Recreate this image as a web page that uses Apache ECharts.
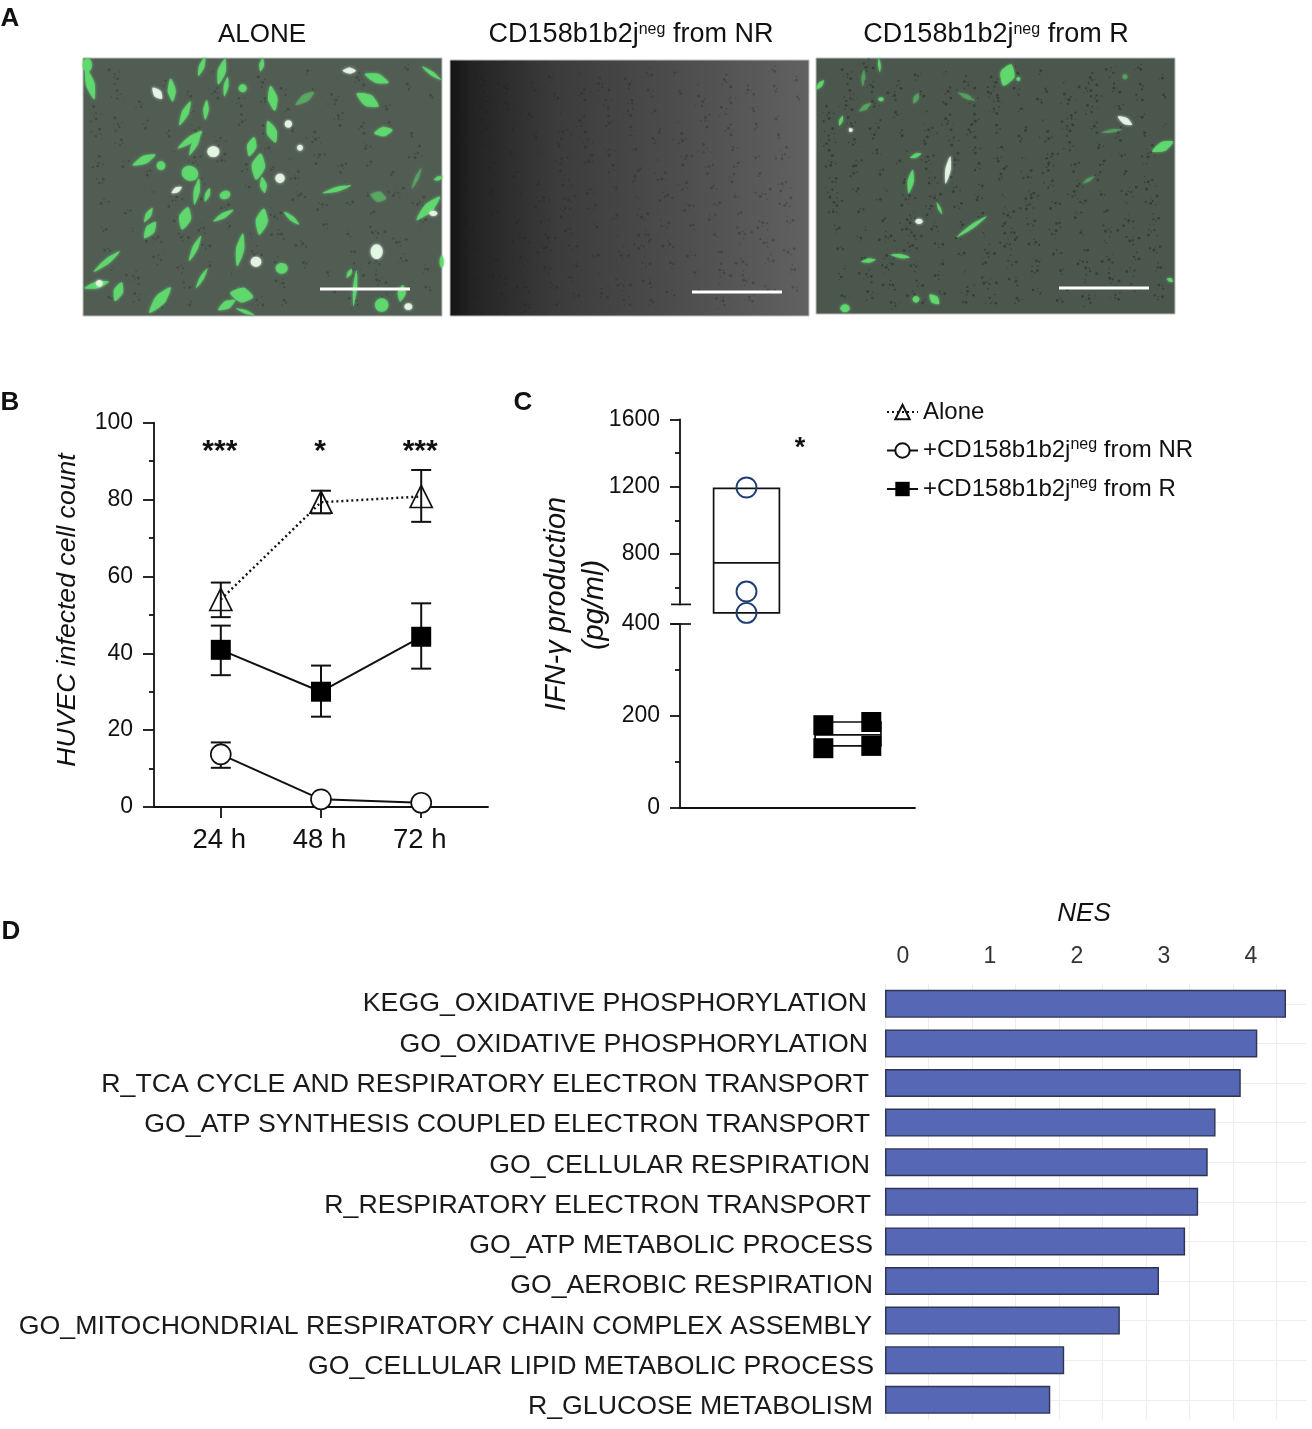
<!DOCTYPE html>
<html>
<head>
<meta charset="utf-8">
<style>html,body{margin:0;padding:0;background:#fff}#c{width:1312px;height:1429px}</style>
<script src="https://cdn.jsdelivr.net/npm/echarts@6/dist/echarts.min.js"></script>
</head>
<body>
<div id="c"></div>
<script>
// ---- Panel B data
const hours = [24, 48, 72];
const aloneMean = [54, 79.3, 80.8];
const aloneLow = [49.4, 76.4, 74.2];
const aloneHigh = [58.4, 82.3, 87.7];
const nrMean = [13.7, 2, 1.1];
const nrLow = [10.2, 2, 1.1];
const nrHigh = [16.8, 2, 1.1];
const rMean = [40.9, 30, 44.3];
const rLow = [34.3, 23.5, 36];
const rHigh = [47.2, 36.8, 53];
const sigB = ['***', '*', '***'];

// ---- Panel C data
const nrPoints = [1195, 577, 450];
const nrBox = [450, 747, 1190];
const rBox = [135, 159, 187];
const rPointsLeft = [180, 130];
const rPointsRight = [187, 135];

// ---- Panel D data
const pathways = [
  'KEGG_OXIDATIVE PHOSPHORYLATION',
  'GO_OXIDATIVE PHOSPHORYLATION',
  'R_TCA CYCLE AND RESPIRATORY ELECTRON TRANSPORT',
  'GO_ATP SYNTHESIS COUPLED ELECTRON TRANSPORT',
  'GO_CELLULAR RESPIRATION',
  'R_RESPIRATORY ELECTRON TRANSPORT',
  'GO_ATP METABOLIC PROCESS',
  'GO_AEROBIC RESPIRATION',
  'GO_MITOCHONDRIAL RESPIRATORY CHAIN COMPLEX ASSEMBLY',
  'GO_CELLULAR LIPID METABOLIC PROCESS',
  'R_GLUCOSE METABOLISM'
];
const nes = [4.61, 4.28, 4.09, 3.80, 3.71, 3.60, 3.45, 3.15, 2.70, 2.06, 1.90];

// ---- Micrograph decoration (photographs in the reference, sketched as shapes)
const cellsAlone = [[60,100,50,13,75],[52,45,20,14,90],[305,120,35,12,85],[395,50,30,8,-70],[455,65,40,12,-75],[468,110,30,7,-80],[345,190,40,10,-65],[408,180,30,8,-85],[518,115,12,12,0],[608,145,38,14,80],[575,45,20,7,-80],[262,130,22,12,50,'w'],[920,85,38,14,20],[893,150,38,18,30],[940,245,28,14,-10],[838,62,20,9,0,'w'],[1085,70,35,6,35],[705,145,35,12,-35,'f'],[360,270,45,10,-35],[222,330,38,12,-25],[375,280,40,9,-65],[273,347,13,13,0],[655,222,11,11,0,'w'],[605,245,35,15,70],[430,305,18,16,0,'w'],[545,290,30,14,-75],[565,350,40,20,-80],[580,405,24,10,80],[690,293,9,9,0,'w'],[630,385,14,14,0,'w'],[360,370,25,22,20],[380,425,40,9,-80],[320,420,18,8,-30,'w'],[412,435,22,7,-70],[465,435,16,12,-20],[235,495,25,8,-60],[345,505,35,18,-75],[240,540,30,14,-55],[460,497,35,8,-30],[575,515,40,18,-80],[665,505,30,7,40],[375,595,42,8,-65],[510,600,50,12,-80],[558,635,16,15,0,'w'],[635,655,18,16,0],[110,635,50,8,-38],[80,705,38,10,-15],[88,700,10,10,0,'w'],[145,725,30,14,-70],[395,685,35,6,-60],[270,750,50,16,-50],[515,735,35,22,10],[470,765,30,12,-30],[525,785,30,5,20],[855,715,55,6,-85],[838,670,16,6,-60],[935,765,20,20,0],[995,730,25,12,-80],[1015,770,12,10,0,'w'],[920,605,18,22,0,'w'],[1075,475,50,14,-45],[1090,490,12,8,0,'w'],[1040,385,35,6,-65,'f'],[800,418,45,7,-15],[925,440,25,16,15,'f'],[1105,385,15,6,-20],[1115,635,6,18,0]];
const cellsR = [[592,75,34,22,-70],[625,87,6,6,0],[208,45,22,4,85],[160,85,25,6,-85,'f'],[30,105,18,7,-50],[213,148,8,6,0],[165,172,22,8,-35,'f'],[318,145,18,8,-65,'f'],[470,140,28,7,25,'f'],[93,212,16,5,-70],[122,240,6,6,0,'w'],[945,212,25,10,30,'w'],[905,243,32,5,-10,'f'],[1058,290,35,14,-25],[317,317,18,6,-20],[414,360,42,8,-80,'w'],[302,395,36,9,-80],[388,475,20,4,65],[327,514,11,8,0,'w'],[485,530,55,6,-35],[270,618,30,6,8],[175,632,22,6,-8],[318,748,10,10,0],[373,748,20,12,45],[105,775,14,12,0],[835,390,22,5,-30,'f'],[945,80,8,8,0,'f'],[1080,690,10,6,20]];

// Small horizontal shifts of the pathway labels, which drift slightly in the reference
const labelDx = [-3,-2,-1,0,0,1,3,3,2,4,3];

const FONT = '"Liberation Sans", Arial, sans-serif';
const INK = '#111';

function photo(x0, y0, x1, y1, fill, cells, ox, oy, clusters, speckOpacity) {
  const out = [{type:'rect', z:1, shape:{x:x0,y:y0,width:x1-x0,height:y1-y0}, style:{fill, stroke:'#bdbdbd', lineWidth:1}}];
  for (let i = 1; i <= clusters; i++) {
    const u = (i * 0.7548776662) % 1, v = (i * 0.5698402910) % 1;
    const cx = x0+9+u*(x1-x0-18), cy = y0+9+v*(y1-y0-18);
    const n = 2 + (i % 6);
    for (let j = 0; j < n; j++) {
      const a = j * 2.399963 + i, d = 1 + j * 1.3;
      out.push({type:'circle', z:2, silent:true, shape:{cx:cx+Math.cos(a)*d, cy:cy+Math.sin(a)*d, r:0.5+((i+j)%4)*0.3},
        style:{fill:'#191d1a', opacity:speckOpacity}});
    }
  }
  (cells||[]).forEach(c => {
    const k = c[5], rx = c[2]/3, ry = c[3]/3;
    const color = k==='w' ? '#e6f7e6' : '#5fd96f';
    const st = {fill:color, opacity:k==='f'?0.38:0.9, shadowBlur:3, shadowColor:color};
    const base = {z:3, silent:true, x:ox+c[0]/3, y:oy+c[1]/3, rotation:-c[4]*Math.PI/180, style:st};
    if (rx > 1.5*ry) {
      out.push(Object.assign({type:'polygon', shape:{smooth:0.25, points:[[-rx,0],[-rx*0.35,-ry*0.8],[rx*0.15,-ry],[rx,0],[rx*0.15,ry],[-rx*0.35,ry*0.8]]}}, base));
    } else {
      out.push(Object.assign({type:'ellipse', shape:{cx:0,cy:0,rx,ry}}, base));
    }
  });
  return out;
}
function bar(x0,x1,y){return {type:'line',z:4,shape:{x1:x0,y1:y,x2:x1,y2:y},style:{stroke:'#fff',lineWidth:3}};}
function ln(x0,y0,x1,y1){return {type:'line',z:4,shape:{x1:x0,y1:y0,x2:x1,y2:y1},style:{stroke:INK,lineWidth:1.7}};}
function txt(s,x,y,size,extra){return Object.assign({type:'text',z:5,x,y,style:Object.assign({text:s,fontFamily:FONT,fontSize:size,fill:'#111',align:'center',verticalAlign:'middle',
  rich:{sup:{fontSize:16,fontFamily:FONT,fill:'#111',padding:[0,0,11,0]}}},extra&&extra.style)},extra&&extra.el);}

const graphics = [].concat(
  photo(83,58,442,316,'#515c53',cellsAlone,70,50,120,0.3),
  photo(450,60,809,316,{type:'linear',x:0,y:0,x2:1,y2:0,colorStops:[{offset:0,color:'#141414'},{offset:0.06,color:'#232323'},{offset:0.3,color:'#3c3c3c'},{offset:0.65,color:'#4e4e4e'},{offset:1,color:'#616161'}]},null,0,0,170,0.3),
  photo(816,58,1175,314,'#4b564d',cellsR,810,50,210,0.42),
  [bar(320,410,289),bar(692,782,292),bar(1059,1149,288),
   txt('A',10,19,26,{style:{fontWeight:'bold'}}),
   txt('B',10,403,26,{style:{fontWeight:'bold'}}),
   txt('C',523,403,26,{style:{fontWeight:'bold'}}),
   txt('D',11,932,26,{style:{fontWeight:'bold'}}),
   txt('ALONE',262,35,26),
   txt('CD158b1b2j{sup|neg} from NR',631,35,27),
   txt('CD158b1b2j{sup|neg} from R',996,35,27),
   txt('NES',1084,914,26,{style:{fontStyle:'italic'}}),
   txt('HUVEC infected cell count',68,610,26.6,{style:{fontStyle:'italic'},el:{rotation:Math.PI/2}}),
   txt('IFN-γ production',557,604,29,{style:{fontStyle:'italic'},el:{rotation:Math.PI/2}}),
   txt('(pg/ml)',595,605,29,{style:{fontStyle:'italic'},el:{rotation:Math.PI/2}}),
   txt('*',800,449,27,{style:{fontWeight:'bold'}}),
   ln(671,604.4,691,604.4), ln(671,624,691,624)]
);

function errorRenderer(low, high) {
  return function (params, api) {
    const i = params.dataIndex, x = hours[i];
    if (low[i] === high[i]) return {type:'group',children:[]};
    const a = api.coord([x, low[i]]), b = api.coord([x, high[i]]);
    const s = {stroke:INK, lineWidth:2};
    return {type:'group', children:[
      {type:'line',shape:{x1:a[0],y1:a[1],x2:b[0],y2:b[1]},style:s},
      {type:'line',shape:{x1:a[0]-10,y1:a[1],x2:a[0]+10,y2:a[1]},style:s},
      {type:'line',shape:{x1:b[0]-10,y1:b[1],x2:b[0]+10,y2:b[1]},style:s}
    ]};
  };
}
function boxRenderer(halfW) {
  return function (params, api) {
    const x = api.value(0), lo = api.coord([x, api.value(1)]), med = api.coord([x, api.value(2)]), hi = api.coord([x, api.value(3)]);
    const l = api.coord([x-halfW, api.value(2)])[0], r = api.coord([x+halfW, api.value(2)])[0];
    const s = {fill:'none', stroke:INK, lineWidth:1.7};
    return {type:'group', children:[
      {type:'rect',shape:{x:l,y:hi[1],width:r-l,height:lo[1]-hi[1]},style:s},
      {type:'line',shape:{x1:l,y1:med[1],x2:r,y2:med[1]},style:{stroke:INK,lineWidth:1.7}}
    ]};
  };
}
const axisLine = {show:true,onZero:false,lineStyle:{color:INK,width:1.8}};
const tickStyle = {color:INK,width:1.8};

const option = {
  animation:false,
  backgroundColor:'#fff',
  textStyle:{fontFamily:FONT},
  graphic:graphics,
  legend:{
    left:886, top:400, padding:0, orient:'vertical', itemWidth:31, itemHeight:18, itemGap:13, selectedMode:false,
    data:['Alone','+CD158b1b2jneg from NR','+CD158b1b2jneg from R'],
    textStyle:{fontFamily:FONT,fontSize:24,color:'#111',
      rich:{sup:{fontFamily:FONT,fontSize:16,color:'#111',padding:[0,0,11,0]},t:{fontFamily:FONT,fontSize:24,color:'#111'}}},
    formatter:n=>{const p=n.split('neg');return p.length>1?`{t|${p[0]}}{sup|neg}{t|${p[1]}}`:`{t|${n}}`;}
  },
  grid:[
    {left:154,top:422.7,width:334,height:384.3},
    {left:680,top:419.3,width:235,height:185.2},
    {left:680,top:624,width:235,height:184},
    {left:885,top:984,width:421,height:435.6},
    {left:885,top:983.85,width:421,height:443.3}
  ],
  xAxis:[
    {gridIndex:0,type:'value',min:8,max:88,splitLine:{show:false},axisLine,
      axisTick:{show:true,length:11,lineStyle:tickStyle,customValues:hours},
      axisLabel:{customValues:hours,formatter:v=>v+' h',fontSize:27.5,color:'#111',margin:19,padding:[0,3,0,0],hideOverlap:false}},
    {gridIndex:1,type:'value',min:0,max:100,show:false},
    {gridIndex:2,type:'value',min:0,max:100,splitLine:{show:false},axisLine,axisTick:{show:false},axisLabel:{show:false}},
    {gridIndex:3,type:'value',position:'top',min:0,max:4.84,interval:0.5,axisLine:{show:false},axisTick:{show:false},
      splitLine:{show:true,showMaxLine:false,lineStyle:{color:'#ededed',width:1}},
      axisLabel:{showMaxLabel:false,fontSize:23,color:'#333',margin:16,padding:[0,0,0,36],
        formatter:v=>Number.isInteger(v)?String(v):''}},
    {gridIndex:4,type:'value',min:0,max:4.84,show:false}
  ],
  yAxis:[
    {gridIndex:0,type:'value',min:0,max:100,interval:20,splitLine:{show:false},axisLine,
      axisTick:{show:true,length:11,lineStyle:tickStyle},
      minorTick:{show:true,splitNumber:2,length:5,lineStyle:tickStyle},
      axisLabel:{fontSize:23,color:'#111',margin:21}},
    {gridIndex:1,type:'value',min:500,max:1600,position:'left',splitLine:{show:false},axisLine,
      axisTick:{show:true,length:10,lineStyle:tickStyle,customValues:[800,1200,1600]},
      axisLabel:{customValues:[800,1200,1600],formatter:v=>String(v),fontSize:23,color:'#111',margin:20}},
    {gridIndex:1,type:'value',min:500,max:1600,position:'left',splitLine:{show:false},axisLine:{show:false},
      axisTick:{show:true,length:5,lineStyle:tickStyle,customValues:[600,1000,1400]},
      axisLabel:{show:false}},
    {gridIndex:2,type:'value',min:0,max:400,interval:200,splitLine:{show:false},axisLine,
      axisTick:{show:true,length:10,lineStyle:tickStyle},
      minorTick:{show:true,splitNumber:2,length:5,lineStyle:tickStyle},
      axisLabel:{fontSize:23,color:'#111',margin:20}},
    {gridIndex:3,type:'category',inverse:true,data:pathways,
      axisLine:{show:false},axisTick:{show:false,alignWithLabel:true},
      splitLine:{show:true,alignWithLabel:true,lineStyle:{color:'#ededed',width:1}},
      axisLabel:{show:false}},
    {gridIndex:4,type:'category',inverse:true,
      data:pathways.map((p,i)=>({value:p,textStyle:{padding:[0,4-labelDx[i],0,0]}})),
      axisLine:{show:false},axisTick:{show:false},splitLine:{show:false},
      axisLabel:{fontSize:26.7,color:'#1a1a1a',margin:11,interval:0}}
  ],
  series:[
    {type:'custom',xAxisIndex:0,yAxisIndex:0,z:2,silent:true,renderItem:errorRenderer(aloneLow,aloneHigh),data:hours.map(h=>[h])},
    {type:'custom',xAxisIndex:0,yAxisIndex:0,z:2,silent:true,renderItem:errorRenderer(nrLow,nrHigh),data:hours.map(h=>[h])},
    {type:'custom',xAxisIndex:0,yAxisIndex:0,z:2,silent:true,renderItem:errorRenderer(rLow,rHigh),data:hours.map(h=>[h])},
    {name:'Alone',type:'line',xAxisIndex:0,yAxisIndex:0,z:3,data:hours.map((h,i)=>[h,aloneMean[i]]),
      symbol:'triangle',symbolSize:22,showAllSymbol:true,
      lineStyle:{color:INK,width:2.4,type:[2,3]},itemStyle:{color:'rgba(255,255,255,0)',borderColor:INK,borderWidth:1.7}},
    {name:'+CD158b1b2jneg from NR',type:'line',xAxisIndex:0,yAxisIndex:0,z:3,data:hours.map((h,i)=>[h,nrMean[i]]),
      symbol:'circle',symbolSize:20,
      lineStyle:{color:INK,width:2},itemStyle:{color:'#fff',borderColor:INK,borderWidth:1.7}},
    {name:'+CD158b1b2jneg from R',type:'line',xAxisIndex:0,yAxisIndex:0,z:3,data:hours.map((h,i)=>[h,rMean[i]]),
      symbol:'rect',symbolSize:20,
      lineStyle:{color:INK,width:2},itemStyle:{color:'#000',borderColor:'#000',borderWidth:0}},
    {type:'scatter',xAxisIndex:0,yAxisIndex:0,silent:true,symbolSize:1,itemStyle:{color:'rgba(0,0,0,0)',opacity:1},
      data:hours.map((h,i)=>({value:[h,93.7],label:{formatter:sigB[i]}})),
      label:{show:true,position:'inside',fontSize:30,fontWeight:'bold',color:'#111',offset:[-1,5],fontFamily:FONT}},
    {type:'custom',xAxisIndex:1,yAxisIndex:1,z:2,clip:false,silent:true,renderItem:boxRenderer(14),data:[[28.3,nrBox[0],nrBox[1],nrBox[2]]]},
    {type:'scatter',xAxisIndex:1,yAxisIndex:1,z:3,clip:false,silent:true,symbol:'circle',symbolSize:20,
      itemStyle:{color:'rgba(255,255,255,0)',borderColor:'#1f3f73',borderWidth:1.9,opacity:1},
      data:nrPoints.map(v=>[28.3,v])},
    {type:'custom',xAxisIndex:2,yAxisIndex:3,z:2,clip:false,silent:true,renderItem:boxRenderer(14),data:[[71.5,rBox[0],rBox[1],rBox[2]]]},
    {type:'scatter',xAxisIndex:2,yAxisIndex:3,z:3,clip:false,silent:true,symbol:'rect',symbolSize:20,
      itemStyle:{color:'#000',opacity:1},
      data:rPointsLeft.map(v=>[61,v]).concat(rPointsRight.map(v=>[81.4,v]))},
    {type:'bar',xAxisIndex:3,yAxisIndex:4,barWidth:28,data:nes,silent:true,
      itemStyle:{color:'#5567b5',borderColor:'#2f3550',borderWidth:1.4}}
  ]
};
const chart = echarts.init(document.getElementById('c'),null,{renderer:'canvas',width:1312,height:1429});
chart.setOption(option);
</script>
</body>
</html>
